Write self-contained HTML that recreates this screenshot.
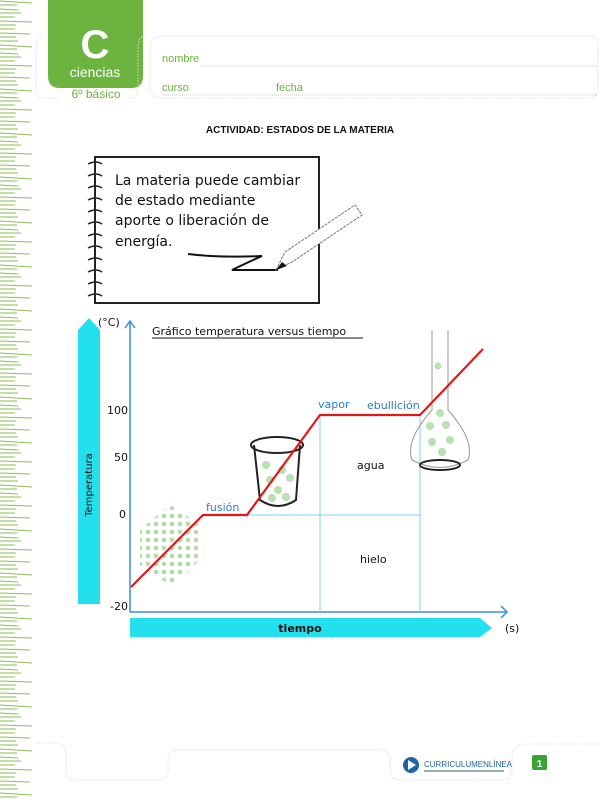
<!DOCTYPE html>
<html><head><meta charset="utf-8"><style>
html,body{margin:0;padding:0;background:#fff;}
svg{display:block}
</style></head><body>
<svg width="600" height="800" viewBox="0 0 600 800" xmlns="http://www.w3.org/2000/svg">
<defs>
<pattern id="grass" x="0" y="0" width="40" height="44" patternUnits="userSpaceOnUse">
<g stroke="#8cbf55" stroke-width="1">
<line x1="0" y1="1" x2="32" y2="3"/><line x1="0" y1="5" x2="17" y2="5"/><line x1="0" y1="9" x2="18" y2="10"/>
<line x1="0" y1="13" x2="21" y2="13"/><line x1="0" y1="17" x2="15" y2="17"/>
<line x1="0" y1="21" x2="32" y2="22"/><line x1="0" y1="25" x2="16" y2="25"/>
<line x1="0" y1="29" x2="15" y2="29"/><line x1="0" y1="33" x2="30" y2="34"/>
<line x1="0" y1="37" x2="16" y2="37"/><line x1="0" y1="41" x2="18" y2="41"/>
</g></pattern>
<pattern id="cube" width="8" height="8" patternUnits="userSpaceOnUse"><circle cx="4" cy="4" r="2.3" fill="#a8d8a0"/></pattern>
</defs>
<rect x="0" y="0" width="36" height="800" fill="url(#grass)"/>

<!-- header -->
<path d="M48 0 H143 V76 Q143 88 131 88 H60 Q48 88 48 76 Z" fill="#6db33f"/>
<text x="95" y="58" font-family="Liberation Sans, sans-serif" font-size="40" font-weight="bold" fill="#fff" text-anchor="middle">C</text>
<text x="95" y="77" font-family="Liberation Sans, sans-serif" font-size="14" fill="#fff" text-anchor="middle">ciencias</text>
<text x="96" y="98" font-family="Liberation Sans, sans-serif" font-size="12" fill="#6db33f" text-anchor="middle">6º básico</text>
<path d="M44 36 Q36 36 36 48 V90 Q36 98 44 98 H60 M130 98 Q138 98 138 90 V48 Q138 36 146 36" fill="none" stroke="#ddd" stroke-dasharray="1.5 1.5"/>
<path d="M162 36 H588 Q598 36 598 46 V88 Q598 98 588 98 H162 Q150 98 150 86 V48 Q150 36 162 36Z" fill="none" stroke="#ddd" stroke-dasharray="1.5 1.5"/>
<text x="162" y="62" font-family="Liberation Sans, sans-serif" font-size="11" fill="#6db33f">nombre</text>
<line x1="200" y1="66" x2="598" y2="66" stroke="#ccc" stroke-dasharray="1 1"/>
<text x="162" y="91" font-family="Liberation Sans, sans-serif" font-size="11" fill="#6db33f">curso</text>
<text x="276" y="91" font-family="Liberation Sans, sans-serif" font-size="11" fill="#6db33f">fecha</text>
<line x1="162" y1="95" x2="598" y2="95" stroke="#ccc" stroke-dasharray="1 1"/>
<text x="300" y="133" font-family="Liberation Sans, sans-serif" font-size="10" font-weight="bold" fill="#111" text-anchor="middle">ACTIVIDAD: ESTADOS DE LA MATERIA</text>

<!-- notebook -->
<rect x="95" y="157" width="224" height="146" fill="#fff" stroke="#222" stroke-width="2"/>
<g stroke="#222" stroke-width="1.5" fill="none">
<path d="M88 164 q8 -4 14 0"/><path d="M88 176 q8 -4 14 0"/><path d="M88 188 q8 -4 14 0"/><path d="M88 200 q8 -4 14 0"/>
<path d="M88 212 q8 -4 14 0"/><path d="M88 224 q8 -4 14 0"/><path d="M88 236 q8 -4 14 0"/><path d="M88 248 q8 -4 14 0"/>
<path d="M88 260 q8 -4 14 0"/><path d="M88 272 q8 -4 14 0"/><path d="M88 284 q8 -4 14 0"/><path d="M88 296 q8 -4 14 0"/>
</g>
<g font-family="DejaVu Sans, sans-serif" font-size="14" fill="#111">
<text x="115" y="185">La materia puede cambiar</text>
<text x="115" y="205">de estado mediante</text>
<text x="115" y="225">aporte o liberación  de</text>
<text x="115" y="246">energía.</text>
</g>
<path d="M188 254 Q220 258 262 256 Q240 266 232 270 H278" fill="none" stroke="#111" stroke-width="2"/>
<path d="M276 270 L285 252 L355 205 L362 215 L292 262 Z" fill="#fff" stroke="#777" stroke-width="1" stroke-dasharray="3 1"/>
<path d="M276 270 L282 262 L287 266 Z" fill="#111"/>

<!-- axes -->
<path d="M78 604 V330 L89 318 L100 330 V604 Z" fill="#22e0ee"/>
<text transform="translate(92 485) rotate(-90)" font-family="DejaVu Sans, sans-serif" font-size="10" fill="#111" text-anchor="middle">Temperatura</text>
<path d="M130 618 H480 L492 628 L480 637 H130 Z" fill="#22e0ee"/>
<text x="300" y="632" font-family="DejaVu Sans, sans-serif" font-size="11" font-weight="bold" fill="#111" text-anchor="middle">tiempo</text>
<text x="505" y="632" font-family="DejaVu Sans, sans-serif" font-size="11" fill="#111">(s)</text>
<text x="98" y="326" font-family="DejaVu Sans, sans-serif" font-size="11" fill="#111">(°C)</text>
<g stroke="#3a8ee0" stroke-width="1.5" fill="none">
<path d="M130 612 V322 M125 328 L130 321 L135 328"/>
<path d="M130 612 H507 M501 606 L507 612 L501 618"/>
</g>
<g stroke="#7fd0f0" stroke-width="1" fill="none">
<path d="M320 415 V612 M420 415 V612 M247 515 H420"/>
</g>
<g font-family="DejaVu Sans, sans-serif" font-size="11" fill="#111" text-anchor="end">
<text x="128" y="414">100</text><text x="128" y="461">50</text><text x="126" y="518">0</text><text x="128" y="610">-20</text>
</g>
<text x="152" y="335" font-family="DejaVu Sans, sans-serif" font-size="11" fill="#111">Gráfico temperatura versus tiempo</text>
<line x1="152" y1="338" x2="363" y2="338" stroke="#111"/>

<!-- ice cube -->
<path d="M140 530 L170 505 L200 525 L200 560 L170 585 L140 565 Z" fill="url(#cube)" opacity="0.9"/>

<!-- beaker -->
<path d="M254 445 L260 500 Q278 512 296 500 L300 445" fill="none" stroke="#222" stroke-width="2"/>
<ellipse cx="277" cy="445" rx="26" ry="8" fill="none" stroke="#222" stroke-width="2"/>
<g fill="#b8e0b0"><circle cx="266" cy="465" r="4"/><circle cx="282" cy="470" r="4"/><circle cx="270" cy="480" r="4"/><circle cx="290" cy="478" r="4"/><circle cx="278" cy="490" r="4"/><circle cx="286" cy="497" r="4"/><circle cx="272" cy="498" r="4"/></g>

<!-- flask -->
<path d="M432 330 V410 Q405 440 412 460 Q440 475 468 460 Q475 440 448 410 V330" fill="none" stroke="#999" stroke-width="1"/>
<ellipse cx="440" cy="465" rx="20" ry="5" fill="none" stroke="#222" stroke-width="2"/>
<g fill="#b8e0b0"><circle cx="438" cy="366" r="3.5"/><circle cx="440" cy="413" r="4"/><circle cx="430" cy="426" r="4"/><circle cx="446" cy="425" r="4"/><circle cx="432" cy="442" r="4"/><circle cx="450" cy="440" r="4"/><circle cx="442" cy="452" r="4"/></g>

<!-- red line -->
<polyline points="131,587 203,515 247,515 320,415 420,415 483,349" fill="none" stroke="#e0191b" stroke-width="2.2"/>

<g font-family="DejaVu Sans, sans-serif" font-size="11" fill="#2a7fd0">
<text x="206" y="511">fusión</text><text x="318" y="408">vapor</text><text x="367" y="409">ebullición</text>
</g>
<g font-family="DejaVu Sans, sans-serif" font-size="11" fill="#111">
<text x="357" y="469">agua</text><text x="360" y="563">hielo</text>
</g>

<!-- footer -->
<path d="M36 743 H55 Q66 743 66 756 V770 Q66 780 76 780 H158 Q168 780 168 770 V760 Q168 750 178 750 H380 Q390 750 390 760 V770 Q390 780 400 780 H502 Q512 780 512 770 V760 Q512 744 526 744 H600" fill="none" stroke="#ddd" stroke-dasharray="1.5 1.5"/>
<circle cx="411" cy="765" r="8" fill="#1e63a8"/>
<path d="M408 760 L416 765 L408 770 Z" fill="#fff"/>
<text x="424" y="767" font-family="Liberation Sans, sans-serif" font-size="8" fill="#1e63a8">CURRICULUMENLÍNEA</text>
<rect x="424" y="770" width="80" height="2" fill="#9ab"/>
<rect x="532" y="755" width="15" height="15" rx="2" fill="#3aa335"/>
<text x="539.5" y="767" font-family="Liberation Sans, sans-serif" font-size="10" font-weight="bold" fill="#fff" text-anchor="middle">1</text>
</svg>
</body></html>
